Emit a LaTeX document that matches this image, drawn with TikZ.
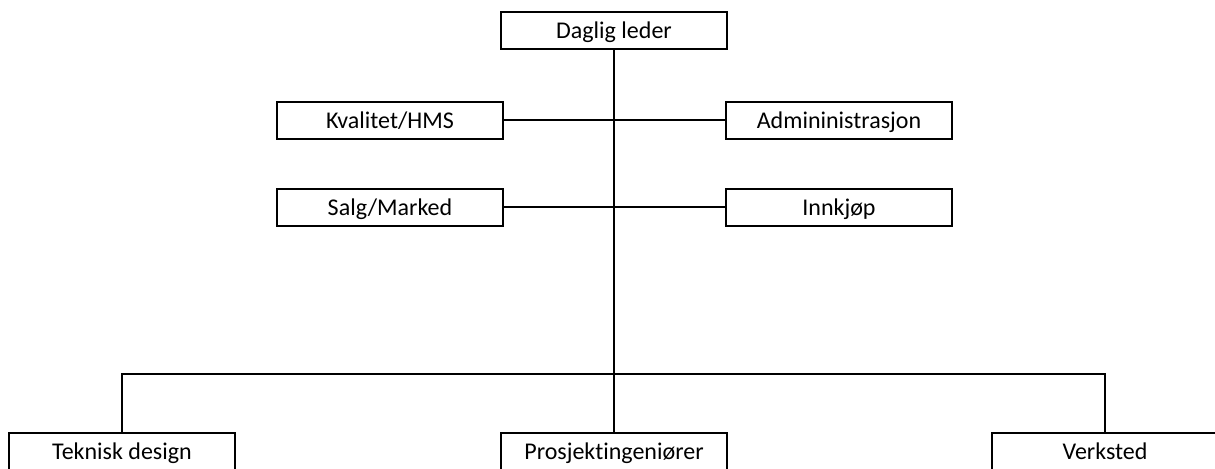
\documentclass[tikz,border=0pt]{standalone}
\usepackage{fontspec}
\setmainfont{Carlito}[Ligatures=NoCommon]
\usepackage{tikz}

\tikzset{
  unitbox/.style={draw, line width=1pt, fill=white, minimum width=113pt, minimum height=18.5pt, inner sep=0pt, text height=7.6pt, text depth=0pt, font=\fontsize{12pt}{14pt}\selectfont},
  orgline/.style={line width=1pt}
}

\begin{document}
\begin{tikzpicture}[x=0.5pt, y=-0.5pt]

\useasboundingbox (0,0) rectangle (1215,469);
\clip (0,0) rectangle (1215,469);

% Top level
\node[unitbox] (leder) at (614,31) {Daglig leder};

% Staff functions
\node[unitbox] (kvalitet) at (390,120.5) {Kvalitet/HMS};
\node[unitbox] (admin) at (839,120.5) {Admininistrasjon};
\node[unitbox] (salg) at (390,207.5) {Salg/Marked};
\node[unitbox] (innkjop) at (839,207.5) {Innkjøp};

% Line departments
\node[unitbox] (teknisk) at (122,451.5) {Teknisk design};
\node[unitbox] (prosjekt) at (614,451.5) {Prosjektingeniører};
\node[unitbox] (verksted) at (1105,451.5) {Verksted};

\coordinate (bus) at (614,374);

% Connectors
\draw[orgline] (leder.south) -- (prosjekt.north);
\draw[orgline] (kvalitet.east) -- (admin.west);
\draw[orgline] (salg.east) -- (innkjop.west);
\draw[orgline] (teknisk.north) |- (bus) -| (verksted.north);

\end{tikzpicture}
\end{document}
